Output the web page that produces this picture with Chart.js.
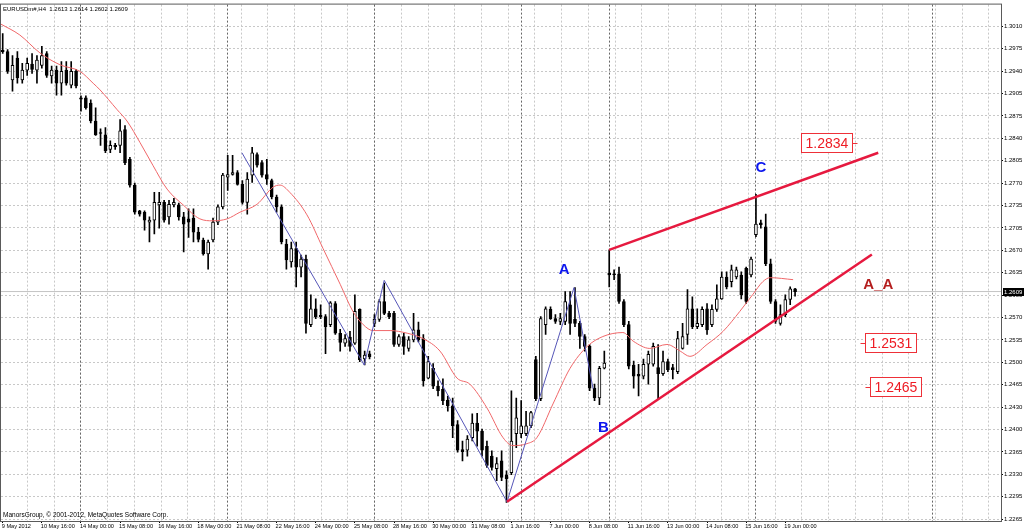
<!DOCTYPE html>
<html>
<head>
<style>
  html, body { margin: 0; padding: 0; background: #fff; }
  #wrap { width: 1024px; height: 532px; position: relative; }
</style>
<script src="https://cdn.jsdelivr.net/npm/chart.js"></script>
</head>
<body>
<div id="wrap"><canvas id="chart" width="1024" height="532"></canvas></div>
<script>
// EURUSD H4, 9 May 2012 08:00 .. 19 Jun 2012 08:00 (one entry per bar)
const opens = [
  1.2974, 1.2972, 1.2929, 1.2962, 1.2929, 1.2944, 1.2953, 1.2944, 1.2951, 1.2969,
  1.2935, 1.2944, 1.2924, 1.2944, 1.2921, 1.2942, 1.2902, 1.2902, 1.2894, 1.2867,
  1.2849, 1.2846, 1.2824, 1.2830, 1.2830, 1.2854, 1.2809, 1.2770, 1.2731, 1.2729,
  1.2714, 1.2717, 1.2740, 1.2744, 1.2722, 1.2740, 1.2740, 1.2722, 1.2719, 1.2720,
  1.2699, 1.2687, 1.2666, 1.2687, 1.2714, 1.2737, 1.2782, 1.2786, 1.2789, 1.2771,
  1.2744, 1.2785, 1.2816, 1.2804, 1.2786, 1.2777, 1.2752, 1.2737, 1.2681, 1.2654,
  1.2674, 1.2646, 1.2658, 1.2559, 1.2583, 1.2573, 1.2571, 1.2559, 1.2591, 1.2546,
  1.2531, 1.2540, 1.2531, 1.2582, 1.2507, 1.2515, 1.2561, 1.2567, 1.2594, 1.2576,
  1.2576, 1.2529, 1.2541, 1.2523, 1.2536, 1.2551, 1.2538, 1.2478, 1.2493, 1.2466,
  1.2461, 1.2445, 1.2436, 1.2408, 1.2370, 1.2369, 1.2388, 1.2410, 1.2398, 1.2375,
  1.2360, 1.2341, 1.2353, 1.2332, 1.2335, 1.2394, 1.2394, 1.2394, 1.2406, 1.2506,
  1.2447, 1.2559, 1.2582, 1.2568, 1.2564, 1.2564, 1.2589, 1.2567, 1.2561, 1.2541,
  1.2526, 1.2463, 1.2448, 1.2493, 1.2637, 1.2636, 1.2636, 1.2594, 1.2559, 1.2498,
  1.2484, 1.2481, 1.2499, 1.2499, 1.2494, 1.2485, 1.2503, 1.2494, 1.2488, 1.2523,
  1.2544, 1.2583, 1.2556, 1.2559, 1.2583, 1.2559, 1.2582, 1.2598, 1.2631, 1.2624,
  1.2631, 1.2634, 1.2644, 1.2634, 1.2695, 1.2713, 1.2707, 1.2651, 1.2594, 1.2561,
  1.2574, 1.2597, 1.2613
];
const highs = [
  1.2999, 1.2975, 1.2966, 1.2972, 1.2954, 1.2962, 1.2969, 1.2966, 1.2980, 1.2972,
  1.2950, 1.2950, 1.2957, 1.2957, 1.2957, 1.2945, 1.2905, 1.2905, 1.2899, 1.2887,
  1.2855, 1.2857, 1.2837, 1.2833, 1.2869, 1.2860, 1.2812, 1.2773, 1.2732, 1.2731,
  1.2722, 1.2759, 1.2759, 1.2747, 1.2747, 1.2750, 1.2743, 1.2729, 1.2734, 1.2734,
  1.2706, 1.2690, 1.2687, 1.2720, 1.2740, 1.2788, 1.2815, 1.2815, 1.2792, 1.2777,
  1.2789, 1.2827, 1.2819, 1.2807, 1.2809, 1.2779, 1.2755, 1.2740, 1.2688, 1.2684,
  1.2684, 1.2664, 1.2664, 1.2604, 1.2598, 1.2589, 1.2574, 1.2594, 1.2594, 1.2552,
  1.2544, 1.2549, 1.2604, 1.2583, 1.2519, 1.2519, 1.2574, 1.2597, 1.2622, 1.2579,
  1.2579, 1.2544, 1.2546, 1.2541, 1.2576, 1.2563, 1.2544, 1.2511, 1.2500, 1.2474,
  1.2477, 1.2451, 1.2448, 1.2414, 1.2383, 1.2391, 1.2424, 1.2425, 1.2401, 1.2383,
  1.2368, 1.2358, 1.2368, 1.2338, 1.2459, 1.2448, 1.2444, 1.2428, 1.2428, 1.2511,
  1.2571, 1.2586, 1.2586, 1.2574, 1.2576, 1.2609, 1.2609, 1.2615, 1.2564, 1.2544,
  1.2529, 1.2469, 1.2496, 1.2519, 1.2672, 1.2642, 1.2646, 1.2597, 1.2564, 1.2504,
  1.2499, 1.2507, 1.2519, 1.2531, 1.2529, 1.2519, 1.2507, 1.2499, 1.2549, 1.2561,
  1.2612, 1.2601, 1.2583, 1.2586, 1.2591, 1.2589, 1.2619, 1.2639, 1.2639, 1.2649,
  1.2646, 1.2639, 1.2646, 1.2661, 1.2756, 1.2717, 1.2726, 1.2658, 1.2597, 1.2589,
  1.2604, 1.2616, 1.2614
];
const lows = [
  1.2969, 1.2939, 1.2912, 1.2924, 1.2924, 1.2936, 1.2939, 1.2924, 1.2947, 1.2933,
  1.2924, 1.2906, 1.2906, 1.2921, 1.2917, 1.2917, 1.2882, 1.2885, 1.2864, 1.2845,
  1.2830, 1.2819, 1.2819, 1.2824, 1.2819, 1.2801, 1.2767, 1.2726, 1.2723, 1.2702,
  1.2684, 1.2696, 1.2705, 1.2714, 1.2711, 1.2737, 1.2717, 1.2669, 1.2691, 1.2684,
  1.2684, 1.2664, 1.2643, 1.2684, 1.2710, 1.2734, 1.2762, 1.2785, 1.2770, 1.2741,
  1.2726, 1.2774, 1.2797, 1.2782, 1.2771, 1.2749, 1.2729, 1.2681, 1.2643, 1.2646,
  1.2616, 1.2631, 1.2546, 1.2556, 1.2568, 1.2568, 1.2515, 1.2556, 1.2544, 1.2519,
  1.2526, 1.2519, 1.2529, 1.2503, 1.2498, 1.2507, 1.2556, 1.2564, 1.2574, 1.2568,
  1.2526, 1.2526, 1.2514, 1.2519, 1.2533, 1.2533, 1.2466, 1.2477, 1.2462, 1.2451,
  1.2438, 1.2428, 1.2388, 1.2366, 1.2353, 1.2360, 1.2383, 1.2375, 1.2360, 1.2343,
  1.2339, 1.2323, 1.2323, 1.2290, 1.2332, 1.2373, 1.2388, 1.2391, 1.2403, 1.2444,
  1.2444, 1.2544, 1.2567, 1.2561, 1.2559, 1.2559, 1.2544, 1.2556, 1.2523, 1.2519,
  1.2459, 1.2444, 1.2438, 1.2492, 1.2616, 1.2627, 1.2591, 1.2556, 1.2492, 1.2463,
  1.2451, 1.2477, 1.2469, 1.2496, 1.2446, 1.2482, 1.2488, 1.2477, 1.2485, 1.2522,
  1.2529, 1.2553, 1.2553, 1.2556, 1.2544, 1.2556, 1.2579, 1.2597, 1.2613, 1.2616,
  1.2628, 1.2598, 1.2591, 1.2631, 1.2692, 1.2705, 1.2648, 1.2591, 1.2561, 1.2558,
  1.2571, 1.2589, 1.2602
];
const closes = [
  1.2972, 1.2942, 1.2951, 1.2932, 1.2944, 1.2954, 1.2945, 1.2959, 1.2966, 1.2936,
  1.2944, 1.2924, 1.2942, 1.2924, 1.2942, 1.2920, 1.2900, 1.2887, 1.2867, 1.2846,
  1.2848, 1.2822, 1.2830, 1.2828, 1.2852, 1.2804, 1.2770, 1.2729, 1.2726, 1.2717,
  1.2717, 1.2744, 1.2744, 1.2717, 1.2741, 1.2744, 1.2722, 1.2711, 1.2714, 1.2699,
  1.2688, 1.2666, 1.2684, 1.2714, 1.2737, 1.2785, 1.2786, 1.2789, 1.2771, 1.2744,
  1.2779, 1.2819, 1.2800, 1.2785, 1.2779, 1.2752, 1.2737, 1.2684, 1.2657, 1.2674,
  1.2646, 1.2658, 1.2561, 1.2583, 1.2571, 1.2571, 1.2556, 1.2592, 1.2546, 1.2532,
  1.2538, 1.2526, 1.2579, 1.2506, 1.2513, 1.2510, 1.2567, 1.2594, 1.2576, 1.2571,
  1.2529, 1.2541, 1.2526, 1.2536, 1.2551, 1.2536, 1.2474, 1.2503, 1.2466, 1.2459,
  1.2444, 1.2436, 1.2406, 1.2369, 1.2367, 1.2386, 1.2410, 1.2398, 1.2369, 1.2346,
  1.2343, 1.2349, 1.2328, 1.2326, 1.2383, 1.2418, 1.2406, 1.2406, 1.2426, 1.2447,
  1.2568, 1.2583, 1.2568, 1.2564, 1.2568, 1.2594, 1.2561, 1.2561, 1.2541, 1.2526,
  1.2463, 1.2448, 1.2493, 1.2501, 1.2634, 1.2634, 1.2594, 1.2559, 1.2496, 1.2481,
  1.2481, 1.2499, 1.2514, 1.2526, 1.2485, 1.2503, 1.2491, 1.2491, 1.2538, 1.2541,
  1.2583, 1.2556, 1.2561, 1.2582, 1.2551, 1.2582, 1.2598, 1.2631, 1.2616, 1.2642,
  1.2642, 1.2604, 1.2594, 1.2658, 1.2711, 1.2710, 1.2651, 1.2594, 1.2564, 1.2574,
  1.2597, 1.2613, 1.2609
];

// time scale: one label every 8 bars, starting at bar 0
const timeLabels = [
  '9 May 2012', '10 May 16:00', '14 May 00:00', '15 May 08:00', '16 May 16:00',
  '18 May 00:00', '21 May 08:00', '22 May 16:00', '24 May 00:00', '25 May 08:00',
  '28 May 16:00', '30 May 00:00', '31 May 08:00', '1 Jun 16:00', '7 Jun 00:00',
  '8 Jun 08:00', '11 Jun 16:00', '13 Jun 00:00', '14 Jun 08:00', '15 Jun 16:00',
  '19 Jun 00:00'
];
// price scale labels, top to bottom
const priceTicks = [
  '1.3010', '1.2975', '1.2940', '1.2905', '1.2875', '1.2840', '1.2805', '1.2770',
  '1.2735', '1.2705', '1.2670', '1.2635', '1.2600', '1.2570', '1.2535', '1.2500',
  '1.2465', '1.2430', '1.2400', '1.2365', '1.2330', '1.2295', '1.2265'
];

// moving average
const maBars = [-0.5, 3.5, 7.6, 11.7, 15.8, 18.5, 19.9, 23.4, 25.4, 28.1, 30.7, 33.6, 36.9, 40.3,
  43.0, 45.9, 48.5, 52.0, 55.3, 56.7, 58.7, 62.2, 65.5, 69.0, 71.6, 73.7, 75.7, 79.2, 82.7, 85.9,
  89.4, 92.9, 95.5, 99.0, 102.3, 104.3, 107.2, 109.2, 112.5, 116.0, 119.5, 122.7, 126.8, 128.9,
  132.3, 135.8, 138.5, 140.5, 144.0, 147.3, 150.7, 153.4, 155.4, 156.9, 161.6];
const maValues = [1.3014, 1.2997, 1.2970, 1.2952, 1.2942, 1.2924, 1.2914, 1.2884, 1.2867, 1.2834,
  1.2800, 1.2764, 1.2740, 1.2719, 1.2716, 1.2719, 1.2729, 1.2741, 1.2767, 1.2770, 1.2759, 1.2725,
  1.2674, 1.2620, 1.2579, 1.2559, 1.2550, 1.2550, 1.2546, 1.2538, 1.2519, 1.2478, 1.2469, 1.2433,
  1.2388, 1.2376, 1.2379, 1.2388, 1.2439, 1.2493, 1.2526, 1.2541, 1.2547, 1.2534, 1.2523, 1.2529,
  1.2519, 1.2511, 1.2529, 1.2549, 1.2579, 1.2605, 1.2624, 1.2630, 1.2627];

// blue zigzag
const zigBars = [48.9, 73.9, 78.0, 103.1, 116.8, 120.7];
const zigValues = [1.2819, 1.2498, 1.2626, 1.2291, 1.2615, 1.2462];
// red channel lines
const lowerLineBars = [103.1, 177.7];
const lowerLineValues = [1.2291, 1.2665];
const upperLineBars = [124.0, 179.0];
const upperLineValues = [1.2672, 1.2819];

// text objects
const waveText = ['A', 'B', 'C'];
const waveBars = [114.8, 122.8, 155.0];
const waveValues = [1.2643, 1.2404, 1.2797];
const markText = 'A_A';
const markBar = 179.0;
const markValue = 1.2620;
const priceMarks = [1.2834, 1.2531, 1.2465];
const priceMarkBars = [163.2, 176.3, 177.3];
const priceMarkSide = ['right', 'left', 'left'];

const separatorBars = [16, 46, 76, 106, 124, 154, 190];
const lastPrice = 1.2609;
const titleText = 'EURUSDm#,H4  1.2613 1.2614 1.2602 1.2609';
const footText = 'ManorsGroup, \u00a9 2001-2012, MetaQuotes Software Corp.';

// view
const xMin = -0.35, xMax = 204.1;
const yMin = 1.2262, yMax = 1.3043;
const tickTop = 1.3010, tickStep = 0.0745 / 22;
const gridStart = -0.39, gridStep = 5.46;
const FONT = '"Liberation Sans", Arial, sans-serif';

const bars = opens.map((o, i) => i);
const bodyColors = opens.map((o, i) => closes[i] >= o ? '#ffffff' : '#000000');

const overlay = {
  id: 'overlay',
  afterDatasetsDraw(chart) {
    const ctx = chart.ctx, a = chart.chartArea;
    const sx = chart.scales.x, sy = chart.scales.y;
    ctx.save();
    // frame
    ctx.strokeStyle = '#5a5a5a';
    ctx.lineWidth = 1;
    ctx.strokeRect(a.left - 0.5, a.top - 0.5, a.right - a.left + 1, a.bottom - a.top + 1);

    ctx.fillStyle = '#000';
    ctx.font = '6px ' + FONT;
    ctx.textAlign = 'left';
    ctx.textBaseline = 'top';
    ctx.fillText(titleText, a.left + 2, a.top + 2);
    ctx.textBaseline = 'alphabetic';
    ctx.font = '6.5px ' + FONT;
    ctx.fillText(footText, a.left + 2, a.bottom - 4);

    // wave letters
    ctx.font = 'bold 15px ' + FONT;
    ctx.textAlign = 'center';
    ctx.textBaseline = 'middle';
    ctx.fillStyle = '#0c16ee';
    waveText.forEach((t, k) => {
      ctx.fillText(t, sx.getPixelForValue(waveBars[k]), sy.getPixelForValue(waveValues[k]) + 1);
    });
    ctx.fillStyle = '#b41e1e';
    ctx.fillText(markText, sx.getPixelForValue(markBar), sy.getPixelForValue(markValue) + 1);

    // price labels
    ctx.font = '14px ' + FONT;
    ctx.textAlign = 'left';
    ctx.textBaseline = 'middle';
    priceMarks.forEach((p, k) => {
      const t = p.toFixed(4);
      const x0 = Math.round(sx.getPixelForValue(priceMarkBars[k])) + 0.5;
      const yc = Math.round(sy.getPixelForValue(p));
      const w = Math.round(ctx.measureText(t).width) + 8, h = 19;
      ctx.fillStyle = '#fff';
      ctx.fillRect(x0, yc - 9.5, w, h);
      ctx.strokeStyle = '#ee3038';
      ctx.lineWidth = 1;
      ctx.strokeRect(x0, yc - 9.5, w, h);
      ctx.beginPath();
      if (priceMarkSide[k] === 'right') { ctx.moveTo(x0 + w, yc + 0.5); ctx.lineTo(x0 + w + 5, yc + 0.5); }
      else { ctx.moveTo(x0 - 5, yc + 0.5); ctx.lineTo(x0, yc + 0.5); }
      ctx.stroke();
      ctx.fillStyle = '#ee1c24';
      ctx.fillText(t, x0 + 4, yc + 1);
    });
    ctx.restore();
  },
  afterDraw(chart) {
    const ctx = chart.ctx, a = chart.chartArea, sy = chart.scales.y;
    const y = Math.round(sy.getPixelForValue(lastPrice));
    ctx.save();
    ctx.fillStyle = '#000';
    ctx.fillRect(a.right + 2, y - 4, 21, 8);
    ctx.fillStyle = '#fff';
    ctx.font = '6px ' + FONT;
    ctx.textAlign = 'left';
    ctx.textBaseline = 'middle';
    ctx.fillText(lastPrice.toFixed(4), a.right + 3, y + 0.5);
    ctx.restore();
  }
};

const lineDs = (xsArr, ysArr, color, width, extra) => Object.assign({
  type: 'line',
  data: xsArr.map((b, k) => ({ x: b, y: ysArr[k] })),
  borderColor: color,
  borderWidth: width,
  pointRadius: 0,
  tension: 0,
  order: 0
}, extra || {});

new Chart(document.getElementById('chart').getContext('2d'), {
  type: 'bar',
  data: {
    datasets: [
      lineDs([xMin, xMax], [lastPrice, lastPrice], '#c4c4c4', 1, { order: 5 }),
      {
        label: 'wicks',
        data: bars.map(i => ({ x: i, y: [lows[i], highs[i]] })),
        backgroundColor: '#000',
        maxBarThickness: 1,
        barPercentage: 1, categoryPercentage: 1,
        grouped: false,
        order: 4
      },
      {
        label: 'bodies',
        data: bars.map(i => ({ x: i, y: [opens[i], closes[i]] })),
        backgroundColor: bodyColors,
        borderColor: '#000',
        borderWidth: 1,
        borderSkipped: false,
        maxBarThickness: 3,
        barPercentage: 1, categoryPercentage: 1,
        minBarLength: 1,
        grouped: false,
        order: 3
      },
      lineDs(maBars, maValues, '#f0686a', 1, { cubicInterpolationMode: 'monotone', order: 2 }),
      lineDs(zigBars, zigValues, '#5656b8', 1, { order: 1 }),
      lineDs(lowerLineBars, lowerLineValues, '#e6193f', 2.5),
      lineDs(upperLineBars, upperLineValues, '#e6193f', 2.5)
    ]
  },
  options: {
    responsive: false,
    animation: false,
    events: [],
    layout: { padding: { left: 1, top: 1, right: 0, bottom: 0 } },
    plugins: { legend: { display: false }, tooltip: { enabled: false } },
    scales: {
      x: {
        type: 'linear', position: 'bottom', min: xMin, max: xMax, offset: false,
        afterBuildTicks: s => { s.ticks = timeLabels.map((t, k) => ({ value: k * 8 })); },
        afterFit: s => { s.height = 11; },
        ticks: {
          callback: (v, i) => timeLabels[i],
          align: 'start', autoSkip: false, maxRotation: 0, minRotation: 0,
          padding: 0, labelOffset: -1,
          font: { family: FONT, size: 5.6 }, color: '#000'
        },
        grid: { offset: false, drawOnChartArea: false, drawTicks: true, tickLength: 2, tickColor: '#000' },
        border: { display: false }
      },
      xg: {
        type: 'linear', position: 'bottom', min: xMin, max: xMax, offset: false,
        afterBuildTicks: s => {
          const t = [];
          for (let v = gridStart; v <= xMax; v += gridStep) if (v >= xMin) t.push({ value: v });
          s.ticks = t;
        },
        afterFit: s => { s.height = 0; },
        ticks: { display: false },
        grid: { offset: false, color: '#c8c8c8', drawTicks: false },
        border: { display: false, dash: [2, 2] }
      },
      xs: {
        type: 'linear', position: 'bottom', min: xMin, max: xMax, offset: false,
        afterBuildTicks: s => { s.ticks = separatorBars.map(v => ({ value: v })); },
        afterFit: s => { s.height = 0; },
        ticks: { display: false },
        grid: { offset: false, color: '#666', drawTicks: false },
        border: { display: false, dash: [2, 2] }
      },
      y: {
        type: 'linear', position: 'right', min: yMin, max: yMax,
        afterBuildTicks: s => { s.ticks = priceTicks.map((t, k) => ({ value: tickTop - k * tickStep })); },
        afterFit: s => { s.width = 23; },
        ticks: {
          callback: (v, i) => priceTicks[i],
          padding: 1,
          font: { family: FONT, size: 6 }, color: '#000'
        },
        grid: { color: '#c8c8c8', tickColor: '#000', tickLength: 2 },
        border: { display: false, dash: [2, 2] }
      }
    }
  },
  plugins: [overlay]
});
</script>
</body>
</html>
